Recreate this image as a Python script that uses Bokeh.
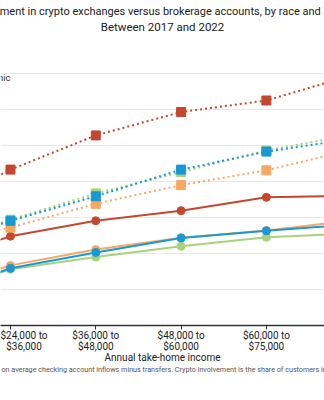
from bokeh.plotting import figure
from bokeh.models import Label, Range1d, FixedTicker, ColumnDataSource, Title
from bokeh.embed import file_html
from bokeh.resources import INLINE

# ---------------- data ----------------
income_labels = ["Less than\n$24,000", "$24,000 to\n$36,000", "$36,000 to\n$48,000",
                 "$48,000 to\n$60,000", "$60,000 to\n$75,000", "$75,000 or\nmore"]
x_idx = [0, 1, 2, 3, 4, 5]

crypto_asian = [3.14, 4.33, 5.28, 5.93, 6.25, 6.95]
crypto_black = [2.11, 2.91, 3.59, 4.33, 4.83, 5.18]
crypto_hispanic = [2.14, 2.94, 3.67, 4.26, 4.86, 5.30]
crypto_white = [2.25, 2.72, 3.38, 3.90, 4.31, 4.88]

brokerage_asian = [1.69, 2.48, 2.91, 3.19, 3.56, 3.60]
brokerage_black = [0.78, 1.59, 2.03, 2.43, 2.63, 2.81]
brokerage_hispanic = [0.80, 1.56, 1.90, 2.20, 2.45, 2.55]
brokerage_white = [0.94, 1.67, 2.11, 2.44, 2.64, 2.92]

y_ticks = [0, 1, 2, 3, 4, 5, 6, 7]

title_line1 = "Involvement in crypto exchanges versus brokerage accounts, by race and income"
title_line2 = "Between 2017 and 2022"
x_title = "Annual take-home income"
note_text = ("Note: Take-home income is the annual total on average checking account inflows "
             "minus transfers. Crypto involvement is the share of customers in crypto exchanges.")
legend_text = "Hispanic"

RED = "#C4472F"
BLUE = "#1799D6"
ORANGE = "#F6A862"
GREEN = "#A8D27A"
FONT = "Roboto"

# ---------------- figure ----------------
W, H = 324, 400
p = figure(width=W, height=H, output_backend="svg", toolbar_location=None,
           min_border_left=0, min_border_right=0, min_border_top=61, min_border_bottom=75)
p.x_range = Range1d(0.8828, 4.6811)
p.y_range = Range1d(0, 7.3333)
p.outline_line_color = None
p.background_fill_color = "white"
p.border_fill_color = "white"

p.yaxis.visible = False
p.ygrid.ticker = FixedTicker(ticks=y_ticks)
p.ygrid.grid_line_color = "#E9E9E9"
p.ygrid.grid_line_width = 1
p.xgrid.visible = False

xa = p.xaxis[0]
xa.ticker = FixedTicker(ticks=x_idx)
xa.major_label_overrides = {i: lab for i, lab in zip(x_idx, income_labels)}
xa.axis_line_color = "#333333"
xa.axis_line_width = 1.3
xa.major_tick_line_color = "#333333"
xa.major_tick_in = 0
xa.major_tick_out = 4
xa.minor_tick_line_color = None
xa.major_label_text_font = FONT
xa.major_label_text_font_size = "10px"
xa.major_label_text_line_height = 1.0
xa.major_label_text_color = "#222222"
xa.major_label_standoff = 0

def line_series(ys, color, dotted, marker):
    src = ColumnDataSource(dict(x=x_idx, y=ys))
    if dotted:
        p.line("x", "y", source=src, line_color=color, line_width=2, line_dash="2 3")
    else:
        p.line("x", "y", source=src, line_color=color, line_width=2)
    p.scatter("x", "y", source=src, marker=marker, size=9 if marker == "square" else 8,
              fill_color=color, line_color=color)

for ys, c in [(brokerage_hispanic, GREEN), (brokerage_white, ORANGE),
              (brokerage_black, BLUE), (brokerage_asian, RED)]:
    line_series(ys, c, False, "circle")
for ys, c in [(crypto_hispanic, GREEN), (crypto_white, ORANGE),
              (crypto_black, BLUE), (crypto_asian, RED)]:
    line_series(ys, c, True, "square")

def title(text, side, align, size, color, standoff, offset=0, valign="bottom"):
    t = Title(text=text, align=align, offset=offset, standoff=standoff,
              vertical_align=valign, text_font=FONT, text_font_size=size,
              text_font_style="normal", text_color=color)
    p.add_layout(t, side)

# titles above (first added is closest to the frame); a blank spacer first
title(" ", "above", "center", "1px", "#ffffff", 25)
title(title_line2, "above", "center", "11.5px", "#222222", 0)
title(title_line1, "above", "center", "11px", "#222222", 0, 5)
# below the axis
title(x_title, "below", "center", "10px", "#222222", -5, 17, "top")
title(note_text, "below", "left", "7.2px", "#555555", 0, -139)

# legend fragment (inside the frame)
p.add_layout(Label(x=0.8828 + 10 * (4.6811 - 0.8828) / 324.0, y=(325 - 76.5) * 7.3333 / 264.0,
                   text=legend_text, text_align="right", text_baseline="middle",
                   text_font=FONT, text_font_size="9.5px", text_color="#333333"))

open("out.html", "w").write(file_html(p, INLINE))
